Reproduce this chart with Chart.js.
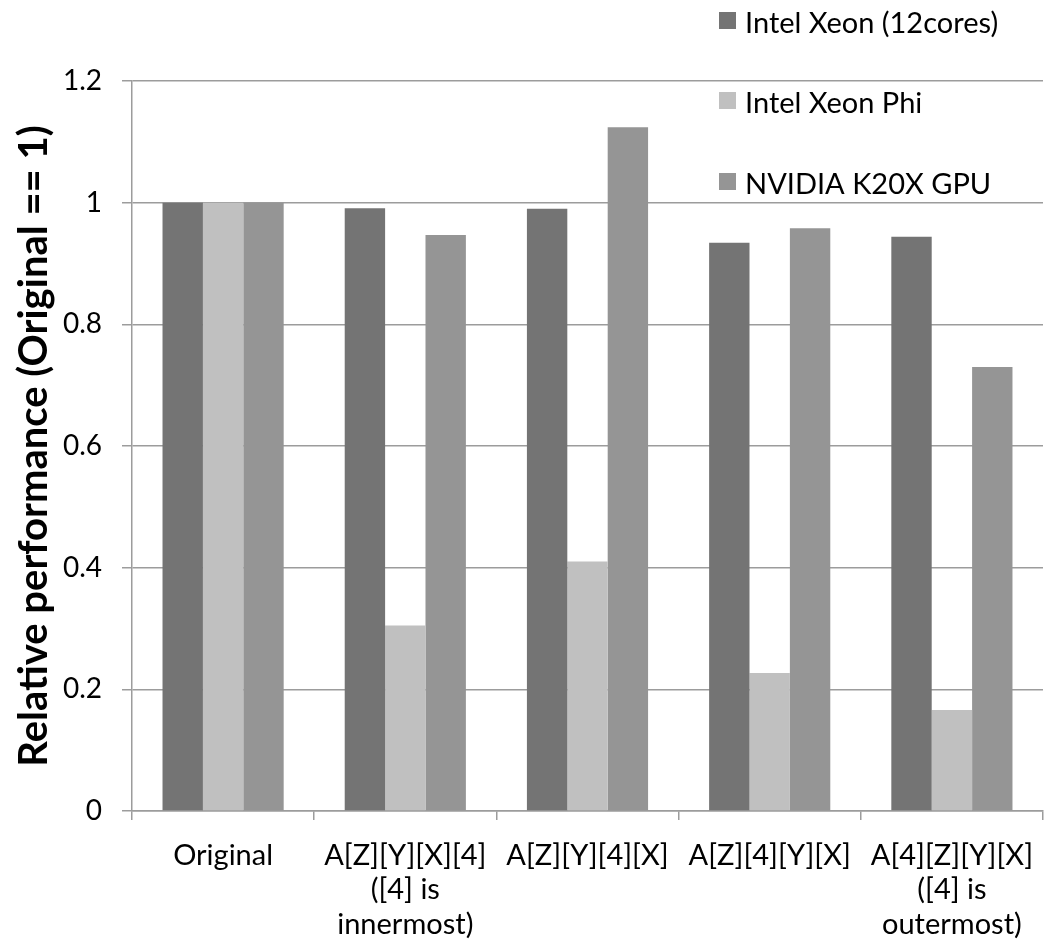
<!DOCTYPE html>
<html>
<head>
<meta charset="utf-8">
<script src="https://cdn.jsdelivr.net/npm/chart.js@4"></script>
<style>
  html, body { margin: 0; padding: 0; background: #fff; }
  #wrap { width: 1052px; height: 943px; position: relative; }
</style>
</head>
<body>
<div id="wrap"><canvas id="chart"></canvas></div>
<script>
// Memory layouts compared, and performance relative to the original layout
const layouts = [
    'Original',
    ['A[Z][Y][X][4]', '([4] is', 'innermost)'],
    'A[Z][Y][4][X]',
    'A[Z][4][Y][X]',
    ['A[4][Z][Y][X]', '([4] is', 'outermost)']
];
const xeonPerf = [1.0, 0.991, 0.990, 0.934, 0.944];
const phiPerf = [1.0, 0.305, 0.410, 0.227, 0.166];
const gpuPerf = [1.0, 0.947, 1.124, 0.958, 0.730];
const yTicks = [0, 0.2, 0.4, 0.6, 0.8, 1.0, 1.2];

const FONT = 'Lato, "Open Sans", sans-serif';
const GRID = '#9c9c9c';

// Legend stacked at the top right, drawn by hand
const legendSpots = [
    { x: 719, y: 12 },
    { x: 719, y: 92 },
    { x: 719, y: 173 }
];
const sideLegend = {
    id: 'sideLegend',
    afterDraw(chart) {
        const ctx = chart.ctx;
        ctx.save();
        ctx.font = '29px ' + FONT;
        ctx.textBaseline = 'alphabetic';
        ctx.textAlign = 'left';
        chart.data.datasets.forEach((ds, i) => {
            const p = legendSpots[i];
            ctx.fillStyle = ds.backgroundColor;
            ctx.fillRect(p.x, p.y, 17, 17);
            ctx.fillStyle = '#000';
            ctx.fillText(ds.label, p.x + 26, p.y + 21);
        });
        ctx.restore();
    }
};

new Chart(document.getElementById('chart'), {
    type: 'bar',
    data: {
        labels: layouts,
        datasets: [
            { label: 'Intel Xeon (12cores)', data: xeonPerf, backgroundColor: '#747474' },
            { label: 'Intel Xeon Phi', data: phiPerf, backgroundColor: '#c0c0c0' },
            { label: 'NVIDIA K20X GPU', data: gpuPerf, backgroundColor: '#959595' }
        ]
    },
    options: {
        responsive: true,
        maintainAspectRatio: false,
        animation: false,
        layout: { padding: { top: 81, right: 9, left: 0, bottom: 0 } },
        datasets: {
            bar: {
                barPercentage: 1.0,
                categoryPercentage: 0.665,
                borderWidth: 0
            }
        },
        plugins: {
            legend: { display: false },
            tooltip: { enabled: false }
        },
        scales: {
            x: {
                grid: {
                    display: true,
                    offset: true,
                    drawOnChartArea: false,
                    drawTicks: true,
                    tickLength: 9,
                    color: GRID,
                    lineWidth: 1.5
                },
                border: { color: GRID, width: 1.5 },
                ticks: {
                    color: '#000',
                    font: { family: FONT, size: 29, lineHeight: 1.19 },
                    maxRotation: 0,
                    autoSkip: false,
                    padding: 18
                },
                afterFit(scale) { scale.height = 132; }
            },
            y: {
                min: 0,
                max: 1.2,
                afterBuildTicks(scale) {
                    scale.ticks = yTicks.map(v => ({ value: v }));
                },
                grid: {
                    color: GRID,
                    lineWidth: 1.5,
                    drawTicks: true,
                    tickLength: 10
                },
                border: { color: GRID, width: 1.5 },
                ticks: {
                    color: '#000',
                    font: { family: FONT, size: 28 },
                    padding: 20,
                    callback: v => String(+v.toFixed(1))
                },
                title: {
                    display: true,
                    text: 'Relative performance (Original == 1)',
                    color: '#000',
                    font: { family: FONT, size: 40, weight: 'bold', lineHeight: 1.2 },
                    padding: { top: 10, bottom: 0 }
                },
                afterFit(scale) { scale.width = 132; }
            }
        }
    },
    plugins: [sideLegend]
});
</script>
</body>
</html>
